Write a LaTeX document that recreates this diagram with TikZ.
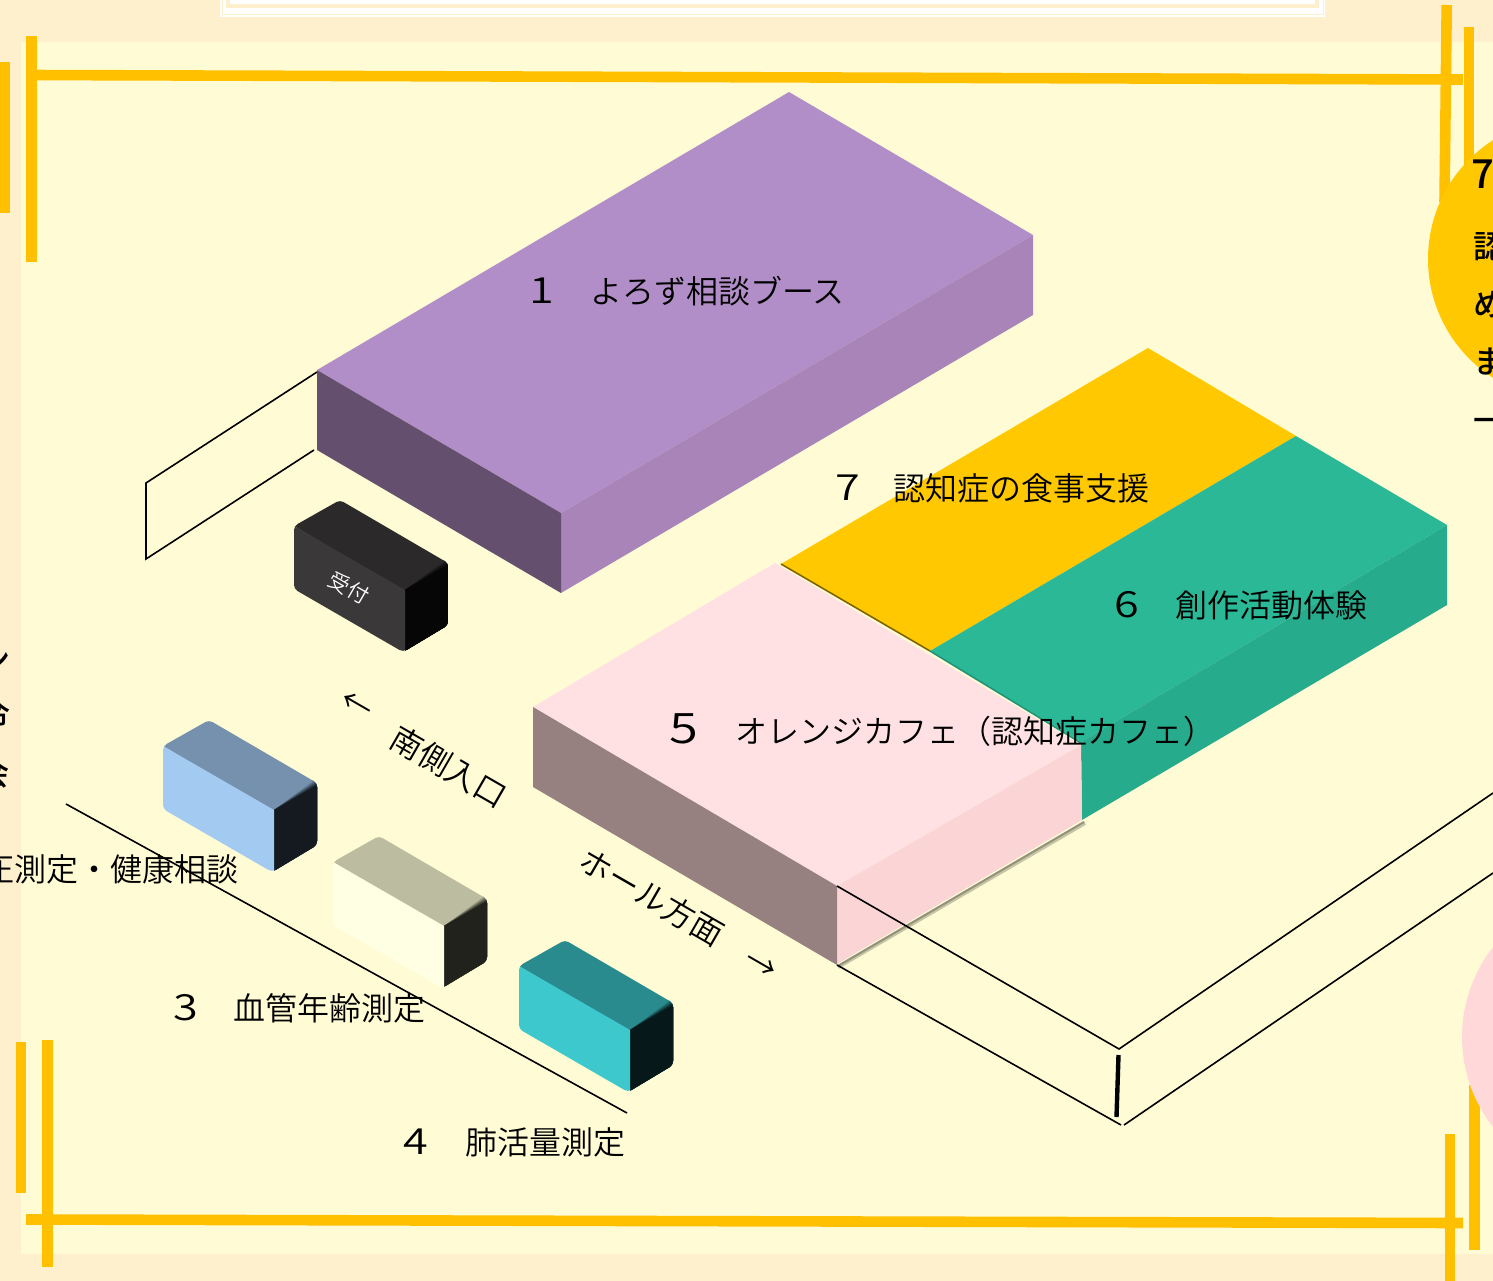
\documentclass[tikz,border=0pt]{standalone}
\usepackage{fontspec}
\usepackage{graphicx}
\newfontfamily\jp[UprightFont=* DemiLight]{Noto Sans CJK JP}
\newfontfamily\jpb[UprightFont=* Medium]{Noto Sans CJK JP}
\definecolor{pageBg}{HTML}{FFF0CD}
\definecolor{roomBg}{HTML}{FFFCD5}
\definecolor{lineGold}{HTML}{FFC000}
\definecolor{discGold}{HTML}{FFC800}
\definecolor{discPink}{HTML}{FFD9D9}
\definecolor{purpleTop}{HTML}{B28EC8}
\definecolor{purpleRight}{HTML}{A884B8}
\definecolor{purpleLeft}{HTML}{654F6E}
\definecolor{greenTop}{HTML}{2BB897}
\definecolor{greenRight}{HTML}{27AB8D}
\definecolor{greenEdge}{HTML}{22937A}
\definecolor{pinkTop}{HTML}{FFE1E3}
\definecolor{pinkRight}{HTML}{FBD5D6}
\definecolor{pinkLeft}{HTML}{978080}
\definecolor{deskFront}{HTML}{3A3839}
\definecolor{deskTop}{HTML}{2B2929}
\definecolor{deskRight}{HTML}{060606}
\definecolor{blueFront}{HTML}{A3CBF2}
\definecolor{blueTop}{HTML}{7591AD}
\definecolor{blueRight}{HTML}{141A20}
\definecolor{creamFront}{HTML}{FFFFE3}
\definecolor{creamTop}{HTML}{BCBDA0}
\definecolor{creamRight}{HTML}{21221B}
\definecolor{tealFront}{HTML}{3CC8CC}
\definecolor{tealTop}{HTML}{2A8B8E}
\definecolor{tealRight}{HTML}{06181A}
\newcommand{\lbl}[1]{\fontsize{#1}{#1}\selectfont}
\newcommand{\dg}[2]{\makebox[#1pt][l]{\lbl{36}\scalebox{1.25}[1]{#2}}}
\newcommand{\isoblock}[5]{%
  \begin{scope}[shift={(#1,#2)}]
    \begin{scope}
      \clip[rounded corners=4] (294,526)--(340,500)--(448,563)--(448,625)--(403,652)--(294,589)--cycle;
      \fill[#4] (294,526)--(340,500)--(448,555)--(448,570)--(405,592)--cycle;
      \foreach \k in {0,...,8} {
        \pgfmathtruncatemacro{\mixv}{\k*100/8}
        \fill[#5!\mixv!#4] (405,590)--(448,{557+\k})--(448,630)--(405,655)--cycle;
      }
      \fill[#3] (294,526)--(405,590)--(405,655)--(294,592)--cycle;
    \end{scope}
  \end{scope}}
\tikzset{
  goldbar/.style={draw=lineGold,line width=10.6pt},
  wire/.style={draw=black,line width=1.6pt},
  plate/.style={inner sep=0pt,anchor=base west,font=\jp\lbl{32},text=black},
  plateEnd/.style={plate,anchor=base east},
  slanted/.style={inner sep=0pt,anchor=center,font=\jp\lbl{32},text=black,rotate=-30},
  edgeText/.style={inner sep=0pt,anchor=center,font=\jpb\lbl{32},text=black},
  discText/.style={inner sep=0pt,anchor=base west,font=\jpb\lbl{32},text=black},
}
\begin{document}
\begin{tikzpicture}[x=1pt,y=-1pt]
\useasboundingbox (0,0) rectangle (1493,1281);
\clip (0,0) rectangle (1493,1281);
% grounds
\fill[pageBg] (0,0) rectangle (1493,1281);
\fill[roomBg] (21,42) rectangle (1493,1254);
% top frame
\fill[white] (220,-2) rectangle (1325,17);
\draw[pageBg,line width=1pt] (222,-2)--(222,14.5)--(1323,14.5)--(1323,-2);
\draw[pageBg,line width=3.5pt] (228,-2)--(228,6)--(1317,6)--(1317,-2);
% gold rules
\draw[goldbar] (27,75)--(1463,79.5);
\draw[goldbar] (26,1219.5)--(1463,1223);
\draw[goldbar] (31.7,36)--(31.7,262);
\draw[goldbar] (4.3,62)--(4.3,213);
\draw[goldbar] (1446.7,5)--(1444.5,202);
\draw[goldbar] (1469,27)--(1469,200);
\draw[goldbar] (47.5,1040)--(47.5,1267);
\draw[goldbar] (20.8,1042)--(20.8,1193);
\draw[goldbar] (1450,1134)--(1450,1285);
\draw[goldbar] (1474.5,1085)--(1474.5,1250);
% discs
\fill[discGold] (1569,259) circle[radius=141];
\fill[discPink] (1608,1037) circle[radius=146];
\node[discText,font=\jpb\lbl{40}] (d7) at (1471,189) {7};
\node[discText] (d1) at (1473,259) {認};
\node[discText] (d2) at (1473,316) {め};
\node[discText] (d3) at (1473,373) {ま};
\node[discText] (d4) at (1473,432) {一};
% left clipped text
\node[edgeText] (e1) at (-5,660) {ン};
\node[edgeText] (e2) at (-5,713) {令};
\node[edgeText] (e3) at (-6,773) {会};
% room outlines
\coordinate (wallA) at (317,372);
\coordinate (wallB) at (146,483);
\coordinate (wallC) at (146,559);
\coordinate (wallD) at (314,450);
\draw[wire] (wallA)--(wallB)--(wallC)--(wallD);
% purple booth
\fill[purpleTop] (789,92)--(1033,235)--(561,513)--(317,370)--cycle;
\fill[purpleRight] (561,513)--(1033,235)--(1033,315)--(561,593)--cycle;
\fill[purpleLeft] (317,370)--(561,513)--(561,593)--(317,450)--cycle;
% gold + green
\fill[discGold] (1148,348)--(1296,436)--(930,651)--(781,564)--cycle;
\fill[greenTop] (1296,436)--(1447,525)--(1081,742)--(930,651)--cycle;
\fill[greenRight] (1447,525)--(1447,605)--(1082,820)--(1081,742)--cycle;
% shadows
\draw[black!50!discGold,line width=1.6pt] (781,564)--(930,651);
\draw[greenEdge,line width=1.6pt] (930,651)--(1081,743);
\draw[black!22!roomBg,line width=4pt] (838,967)--(1085,823);
\draw[black!42!roomBg,line width=2pt] (838,966)--(1084,822);
% pink block
\fill[pinkTop] (775,563)--(1081,745)--(837,886)--(533,707)--cycle;
\fill[pinkRight] (837,886)--(1081,745)--(1082,820)--(837,964)--cycle;
\fill[pinkLeft] (533,707)--(837,886)--(837,965)--(533,787)--cycle;
% room lines over the block
\coordinate (roomA) at (837,886);
\coordinate (roomB) at (1119,1049);
\coordinate (roomC) at (1493,793);
\coordinate (roomD) at (837,965);
\coordinate (roomE) at (1121,1125);
\coordinate (roomF) at (1124,1125);
\coordinate (roomG) at (1493,873);
\coordinate (postA) at (1118.5,1055);
\coordinate (postB) at (1116.5,1117);
\draw[wire] (roomA)--(roomB)--(roomC);
\draw[wire] (roomD)--(roomE);
\draw[wire] (roomF)--(roomG);
\draw[draw=black,line width=4.4pt] (postA)--(postB);
% small blocks
\isoblock{0}{0}{deskFront}{deskTop}{deskRight}
\isoblock{-131}{220}{blueFront}{blueTop}{blueRight}
\isoblock{39}{336}{creamFront}{creamTop}{creamRight}
\isoblock{225}{440}{tealFront}{tealTop}{tealRight}
\node[inner sep=0pt,font=\jp\lbl{21},text=white,rotate=-30] (desk) at (349,588) {受付};
% south wall line
\coordinate (southA) at (66,804);
\coordinate (southB) at (627,1113);
\draw[wire] (southA)--(southB);
% labels
\node[plate] (t1) at (529,303) {\dg{61}{1}よろず相談ブース};
\node[plate] (t7) at (835,500) {\dg{58}{7}認知症の食事支援};
\node[plate] (t6) at (1114,617) {\dg{61}{6}創作活動体験};
\node[plate] (t5) at (669,743) {\makebox[66pt][l]{\lbl{42}\scalebox{1.25}[1]{5}}オレンジカフェ（認知症カフェ）};
\node[plateEnd] (t2) at (239,881) {血圧測定・健康相談};
\node[plate] (t3) at (173,1020) {\dg{60}{3}血管年齢測定};
\node[plate] (t4) at (403,1154) {\dg{62}{4}肺活量測定};
\node[slanted] (south) at (449,767) {南側入口};
\node[slanted] (hall) at (652,897) {ホール方面};
\node[slanted] (arrS) at (356,706) {←};
\node[slanted] (arrH) at (760,966) {→};
\end{tikzpicture}
\end{document}
